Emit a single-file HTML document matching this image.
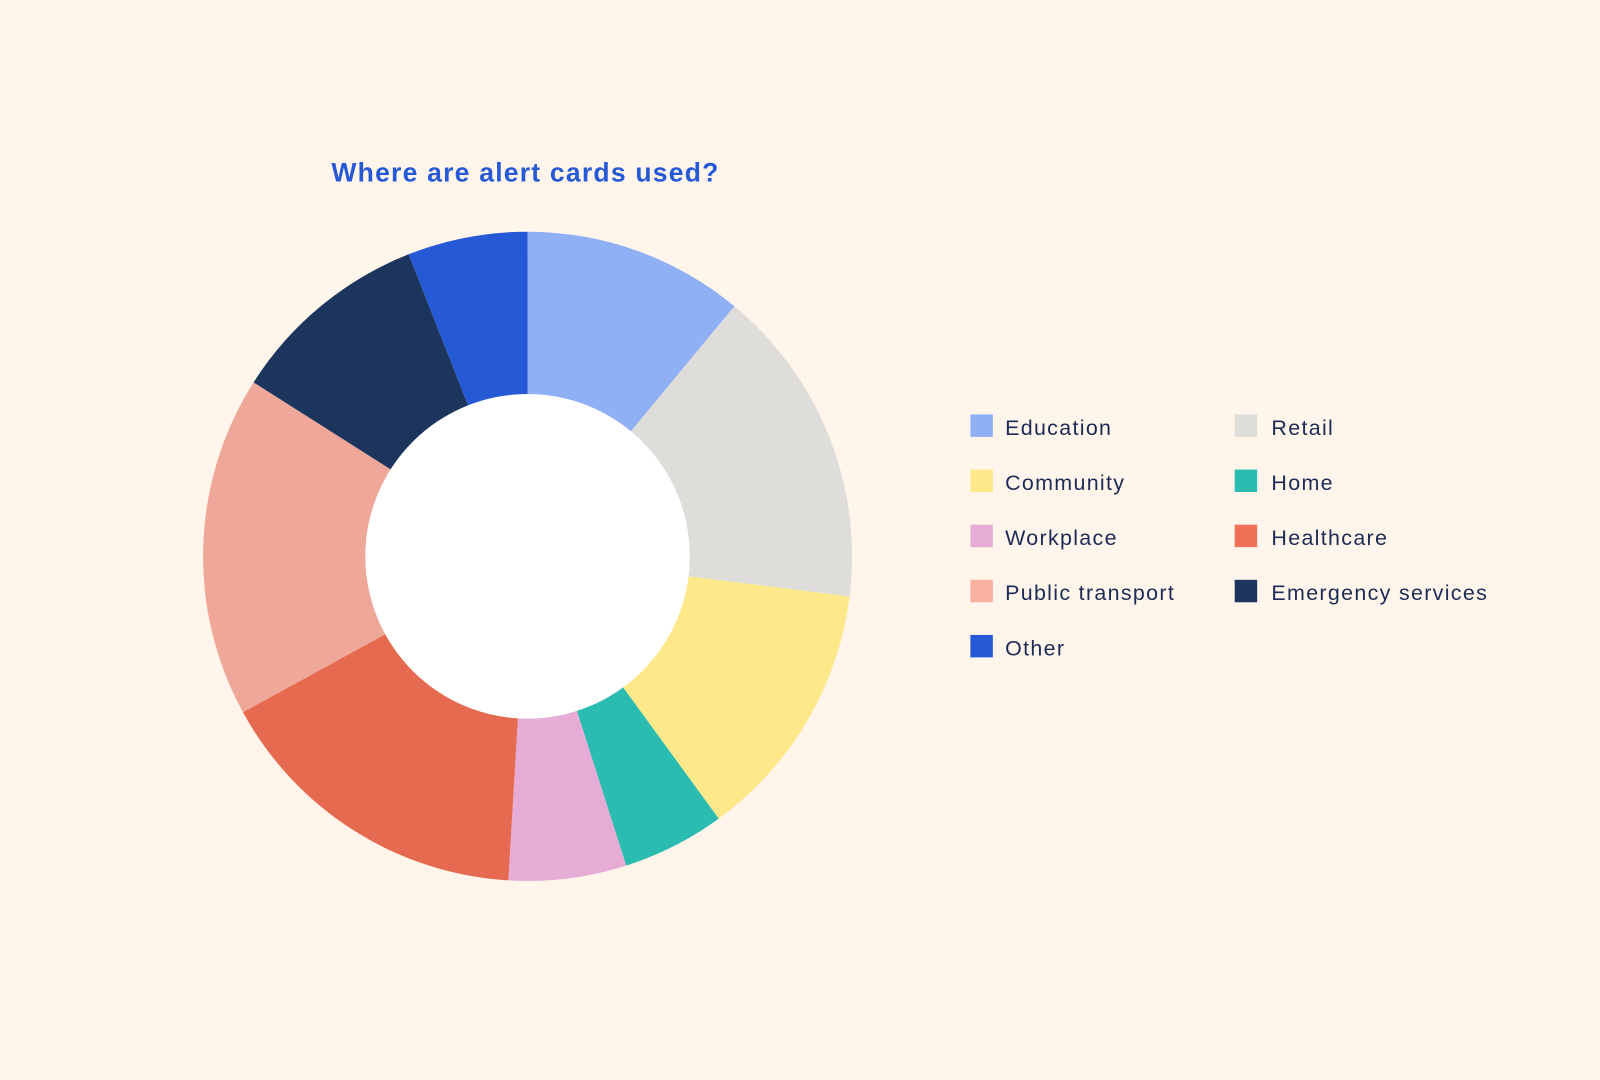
<!DOCTYPE html>
<html><head><meta charset="utf-8"><style>
html,body{margin:0;padding:0;background:#fff5eb;}
svg{display:block}
text{font-family:"Liberation Sans",sans-serif;}
</style></head><body>
<svg id="s" width="1600" height="1080" viewBox="0 0 1568 1058" preserveAspectRatio="none" xmlns="http://www.w3.org/2000/svg">
<rect width="1568" height="1058" fill="#fff5eb"/>
<text x="515" y="178" text-anchor="middle" font-size="26" font-weight="bold" fill="#2659d6" letter-spacing="1.2">Where are alert cards used?</text>
<g id="pie"></g>
<circle cx="517" cy="545" r="159" fill="#ffffff"/>
<g font-size="21" fill="#1b2b55" letter-spacing="1.3">
<rect x="951" y="406" width="22" height="22" fill="#8fb0f5"/><text x="985" y="426">Education</text>
<rect x="951" y="460" width="22" height="22" fill="#fde88a"/><text x="985" y="480">Community</text>
<rect x="951" y="514" width="22" height="22" fill="#e7acd6"/><text x="985" y="534">Workplace</text>
<rect x="951" y="568" width="22" height="22" fill="#f9b0a0"/><text x="985" y="588">Public transport</text>
<rect x="951" y="622" width="22" height="22" fill="#2659d6"/><text x="985" y="642">Other</text>
<rect x="1210" y="406" width="22" height="22" fill="#deddd9"/><text x="1246" y="426">Retail</text>
<rect x="1210" y="460" width="22" height="22" fill="#2bbcb1"/><text x="1246" y="480">Home</text>
<rect x="1210" y="514" width="22" height="22" fill="#f07158"/><text x="1246" y="534">Healthcare</text>
<rect x="1210" y="568" width="22" height="22" fill="#1b355c"/><text x="1246" y="588">Emergency services</text>
</g>
</svg>
<script>
var cx=517,cy=545,r=318;
var b=[0,39.6,97.1,143.9,162.3,183.4,241.3,302.4,338.5,360];
var c=["#8fb0f5","#deddd9","#fde88a","#2bbcb1","#e7acd6","#e56a50","#eea798","#1b355c","#2659d6"];
var g=document.getElementById("pie"),h="";
function p(a){a=a*Math.PI/180;return (cx+r*Math.sin(a)).toFixed(2)+","+(cy-r*Math.cos(a)).toFixed(2);}
for(var i=0;i<9;i++){var l=(b[i+1]-b[i])>180?1:0;
h+='<path d="M'+cx+','+cy+' L'+p(b[i])+' A'+r+','+r+' 0 '+l+' 1 '+p(b[i+1])+' Z" fill="'+c[i]+'"/>';}
g.innerHTML=h;
</script>
</body></html>
